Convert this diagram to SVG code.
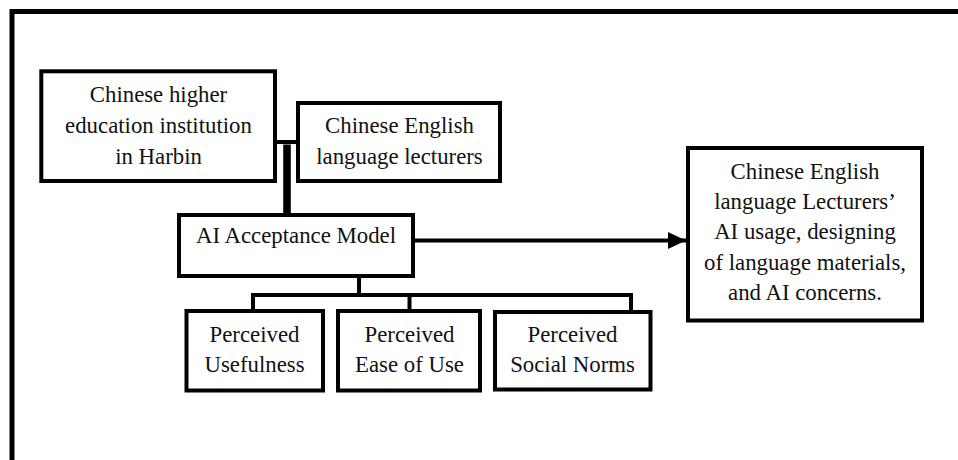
<svg xmlns="http://www.w3.org/2000/svg" width="958" height="460" viewBox="0 0 958 460">
  <style>
    .box { fill: #ffffff; stroke: #000000; stroke-width: 4; }
    .ln { fill: none; stroke: #000000; stroke-width: 4; stroke-linecap: butt; }
    .frame { fill: none; stroke: #000000; stroke-width: 5; }
    text { font-family: "Liberation Serif", "Times New Roman", serif; font-size: 22.8px; fill: #111111; text-anchor: middle; }
  </style>
  <defs>
    <marker id="arrow" markerUnits="userSpaceOnUse" markerWidth="20" markerHeight="20" viewBox="0 0 20 20" refX="18" refY="10" orient="auto">
      <polygon points="0,1.5 18,10 0,18.5" fill="#000000"/>
    </marker>
  </defs>
  <rect width="958" height="460" fill="#ffffff"/>
  <g id="frame">
    <path class="frame" d="M12,460 V11.5 H958"/>
  </g>
  <g id="connectors">
    <path class="ln" d="M275,142 H298"/>
    <path class="ln" d="M285.2,144.5 V215" stroke-width="2.8"/>
    <path class="ln" d="M288.8,144.5 V215" stroke-width="2.8"/>
    <path class="ln" d="M413,240.5 H686" stroke-width="5" marker-end="url(#arrow)"/>
    <path class="ln" d="M359,276 V295"/>
    <path class="ln" d="M251,295 H633"/>
    <path class="ln" d="M253,293 V311"/>
    <path class="ln" d="M409.5,295 V311"/>
    <path class="ln" d="M631,293 V312"/>
  </g>
  <g id="node-institution">
    <rect class="box" x="41.3" y="71.3" width="233.7" height="109.7"/>
    <text x="158.5" y="101.5">Chinese higher</text>
    <text x="158.5" y="132.5">education institution</text>
    <text x="158.5" y="163.5">in Harbin</text>
  </g>
  <g id="node-lecturers">
    <rect class="box" x="298" y="103" width="202" height="78"/>
    <text x="399.5" y="133.3">Chinese English</text>
    <text x="399.5" y="163.5">language lecturers</text>
  </g>
  <g id="node-model">
    <rect class="box" x="179" y="215" width="234" height="61"/>
    <text x="296" y="243">AI Acceptance Model</text>
  </g>
  <g id="node-usefulness">
    <rect class="box" x="186.5" y="311" width="136.5" height="79.5"/>
    <text x="254.5" y="342">Perceived</text>
    <text x="254.5" y="372">Usefulness</text>
  </g>
  <g id="node-ease">
    <rect class="box" x="338" y="311" width="142" height="79.5"/>
    <text x="409.5" y="342">Perceived</text>
    <text x="409.5" y="372">Ease of Use</text>
  </g>
  <g id="node-social">
    <rect class="box" x="495" y="312" width="155.5" height="77.5"/>
    <text x="572.5" y="342">Perceived</text>
    <text x="572.5" y="372">Social Norms</text>
  </g>
  <g id="node-outcome">
    <rect class="box" x="688" y="148" width="234" height="172.5"/>
    <text x="805" y="178.5">Chinese English</text>
    <text x="805" y="208.9">language Lecturers’</text>
    <text x="805" y="239.3">AI usage, designing</text>
    <text x="805" y="269.7">of language materials,</text>
    <text x="805" y="300.1">and AI concerns.</text>
  </g>
</svg>
